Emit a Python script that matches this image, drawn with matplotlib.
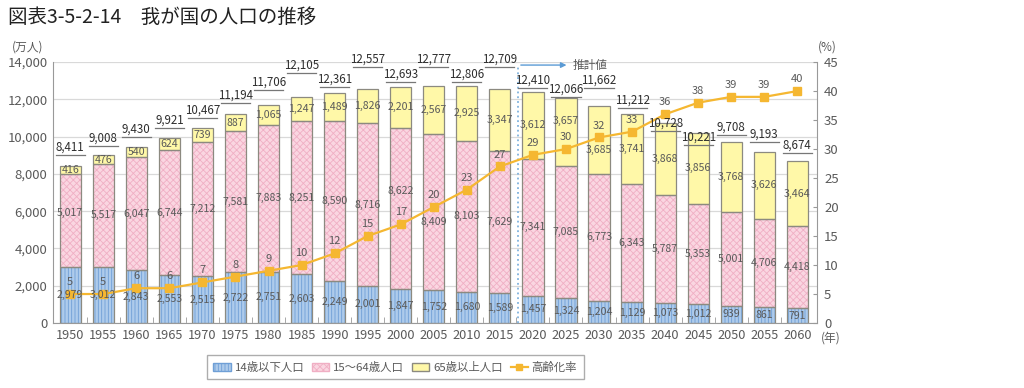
import numpy as np
import matplotlib.pyplot as plt
from matplotlib.patches import Patch
from matplotlib.lines import Line2D

plt.rcParams['font.family'] = ['Noto Sans CJK JP', 'DejaVu Sans']
plt.rcParams['hatch.linewidth'] = 0.6

years = [1950, 1955, 1960, 1965, 1970, 1975, 1980, 1985, 1990, 1995, 2000, 2005,
         2010, 2015, 2020, 2025, 2030, 2035, 2040, 2045, 2050, 2055, 2060]
young = [2979, 3012, 2843, 2553, 2515, 2722, 2751, 2603, 2249, 2001, 1847, 1752,
         1680, 1589, 1457, 1324, 1204, 1129, 1073, 1012, 939, 861, 791]
working = [5017, 5517, 6047, 6744, 7212, 7581, 7883, 8251, 8590, 8716, 8622, 8409,
           8103, 7629, 7341, 7085, 6773, 6343, 5787, 5353, 5001, 4706, 4418]
elderly = [416, 476, 540, 624, 739, 887, 1065, 1247, 1489, 1826, 2201, 2567,
           2925, 3347, 3612, 3657, 3685, 3741, 3868, 3856, 3768, 3626, 3464]
totals = [8411, 9008, 9430, 9921, 10467, 11194, 11706, 12105, 12361, 12557, 12693, 12777,
          12806, 12709, 12410, 12066, 11662, 11212, 10728, 10221, 9708, 9193, 8674]
aging_rate = [5, 5, 6, 6, 7, 8, 9, 10, 12, 15, 17, 20,
              23, 27, 29, 30, 32, 33, 36, 38, 39, 39, 40]

# layout: where the total labels sit (staggered so they don't collide)
total_label_y = [9012, 9494, 9977, 10460, 10996, 11801, 12498, 13410, 12659, 13732, 12927, 13732,
                 12927, 13732, 12605, 12123, 12605, 11533, 10300, 9550, 10083, 9710, 9120]
mid_shift = {0: 400, 10: 950, 11: -540}
old_shift = {15: 590, 16: -540}

x = np.arange(len(years))
young = np.array(young)
working = np.array(working)
elderly = np.array(elderly)

c_blue, h_blue = '#AECBEB', '#6F9FD6'
c_pink, h_pink = '#FAD6E1', '#F0AFC4'
c_yell = '#FFF8A8'
c_line = '#F5B731'
outline = '#8C8A80'
txt = '#5A5A5A'

fig = plt.figure(figsize=(10.24, 3.88), dpi=100)
ax = fig.add_axes([0.0518, 0.1675, 0.7462, 0.6725])
w = 0.64

ax.bar(x, young, w, color=c_blue, edgecolor=h_blue, hatch='|||||', lw=0, zorder=2)
ax.bar(x, working, w, bottom=young, color=c_pink, edgecolor=h_pink, hatch='xxxxx', lw=0, zorder=2)
ax.bar(x, elderly, w, bottom=young + working, color=c_yell, lw=0, zorder=2)
for vals, bot in [(young, 0), (working, young), (elderly, young + working)]:
    ax.bar(x, vals, w, bottom=bot, fill=False, edgecolor=outline, lw=0.9, zorder=3)

ax.set_xlim(-0.52, 22.6)
ax.set_ylim(0, 14000)
ax.set_yticks(range(0, 14001, 2000))
ax.set_yticklabels([f'{v:,}' for v in range(0, 14001, 2000)])
ax.yaxis.grid(True, color='#D9D9D9', lw=0.9, zorder=0)
ax.set_axisbelow(True)
ax.set_xticks(x)
ax.set_xticklabels([str(y) for y in years])
ax.set_xticks(x[:-1] + 0.5, minor=True)
ax.tick_params(axis='x', which='major', length=0, labelsize=9.2, colors=txt, pad=4)
ax.tick_params(axis='x', which='minor', length=4, direction='in', color='#999999')
ax.tick_params(axis='y', length=0, labelsize=9.5, colors=txt, pad=4)
for s in ['top', 'right']:
    ax.spines[s].set_visible(False)
for s in ['left', 'bottom']:
    ax.spines[s].set_color('#999999')

# projection marker
ax.plot([13.55, 13.55], [0, 13850], ls=':', color='#7FB2DD', lw=1.3, zorder=4)
ax.annotate('', xy=(15.1, 13840), xytext=(13.55, 13840),
            arrowprops=dict(arrowstyle='-|>', color='#5B9BD5', lw=1.0, mutation_scale=8))
ax.text(15.2, 13840, '推計値', ha='left', va='center', fontsize=8.4, color=txt)

ax2 = ax.twinx()
ax2.set_ylim(0, 45)
ax2.set_yticks(range(0, 46, 5))
ax2.tick_params(axis='y', length=3, direction='in', labelsize=9.5, colors=txt, pad=5)
ax2.tick_params(axis='y', color='#999999')
for s in ['top', 'left', 'bottom']:
    ax2.spines[s].set_visible(False)
ax2.spines['right'].set_color('#999999')
ax2.plot(x, aging_rate, color=c_line, lw=1.6, marker='s', ms=6, zorder=5)
for i in x:
    ax2.annotate(str(aging_rate[i]), (i, aging_rate[i]), xytext=(0, 5), textcoords='offset points',
                 ha='center', va='bottom', fontsize=8, color=txt, zorder=7)

# segment and total labels go on top of the rate line
tr = ax.transData
for i in x:
    ax2.text(i, young[i] / 2, f'{young[i]:,}', ha='center', va='center', fontsize=7.6,
             color=txt, zorder=8, transform=tr)
    ax2.text(i, young[i] + working[i] / 2 + mid_shift.get(i, 0), f'{working[i]:,}',
             ha='center', va='center', fontsize=7.6, color=txt, zorder=8, transform=tr)
    ax2.text(i, young[i] + working[i] + elderly[i] / 2 + old_shift.get(i, 0), f'{elderly[i]:,}',
             ha='center', va='center', fontsize=7.6, color=txt, zorder=8, transform=tr)
    ax2.plot([i - 0.44, i + 0.44], [total_label_y[i]] * 2, color='#777777', lw=0.9,
             zorder=8, transform=tr)
    ax2.text(i, total_label_y[i] + 60, f'{totals[i]:,}', ha='center', va='bottom',
             fontsize=8.3, color='#2E2E2E', zorder=8, transform=tr)

fig.text(0.008, 0.954, '図表3-5-2-14　我が国の人口の推移', fontsize=14, va='center', ha='left', color='#222222')
fig.text(0.012, 0.879, '(万人)', fontsize=8.5, va='center', ha='left', color=txt)
fig.text(0.799, 0.879, '(%)', fontsize=8.5, va='center', ha='left', color=txt)
fig.text(0.802, 0.128, '(年)', fontsize=8.5, va='center', ha='left', color=txt)

handles = [Patch(facecolor=c_blue, edgecolor=h_blue, hatch='|||||'),
           Patch(facecolor=c_pink, edgecolor=h_pink, hatch='xxxxx'),
           Patch(facecolor=c_yell, edgecolor=outline),
           Line2D([], [], color=c_line, marker='s', ms=5, lw=1.6)]
labels = ['14歳以下人口', '15～64歳人口', '65歳以上人口', '高齢化率']
leg = fig.legend(handles, labels, loc='center', bbox_to_anchor=(0.386, 0.054), ncol=4,
                 fontsize=8.2, frameon=True, fancybox=False, edgecolor='#999999',
                 handlelength=1.5, handletextpad=0.35, columnspacing=0.7, borderpad=0.6)
for t in leg.get_texts():
    t.set_color(txt)

fig.savefig('out.png', dpi=100)
